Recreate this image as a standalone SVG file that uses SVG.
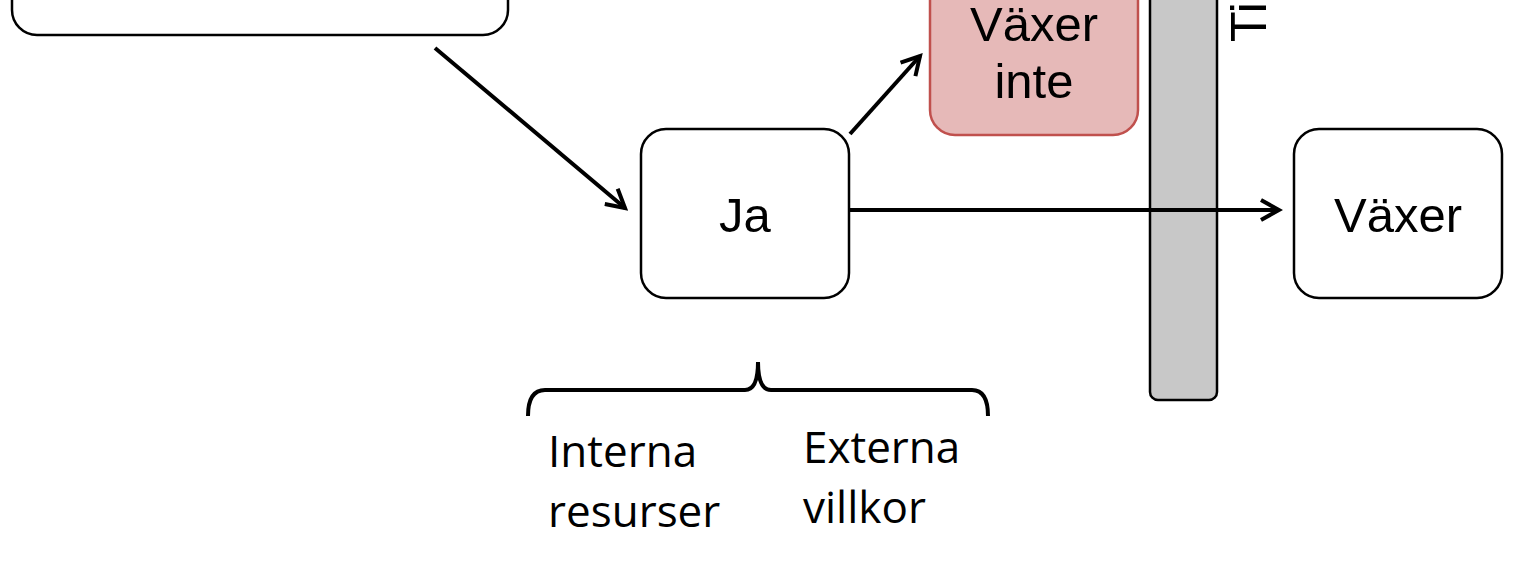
<svg xmlns="http://www.w3.org/2000/svg" width="1514" height="573" viewBox="0 0 1514 573">
<style>
.n{fill:#fff;stroke:#000;stroke-width:2.5}
.t{font-family:"Liberation Sans",Arial,sans-serif;font-size:49px;text-anchor:middle;fill:#000}
.c{stroke:#000;stroke-width:4;fill:none}
.b{font-family:"Open Sans","Liberation Sans",sans-serif;font-size:44px;fill:#000}
</style>
<defs><marker id="a" markerWidth="6" markerHeight="6" refX="5" refY="3" orient="auto" markerUnits="strokeWidth"><path d="M0.5,0.5 L5,3 L0.5,5.5" fill="none" stroke="#000" stroke-width="1"/></marker></defs>
<rect x="0" y="0" width="1514" height="573" fill="#fff"/>
<g id="top"><rect class="n" x="12" y="-40" width="496" height="75" rx="25"/></g>
<g id="bar"><rect x="1150" y="-20" width="67" height="420" rx="8" fill="#c8c8c8" stroke="#000" stroke-width="2.5"/>
<text class="t" transform="translate(1266,42) rotate(-90)" style="text-anchor:start;font-size:50px">Ti</text></g>
<g id="vaxerinte"><rect x="930" y="-40" width="208" height="175" rx="25" fill="#e6b9b8" stroke="#c0504d" stroke-width="2.5"/>
<text class="t" x="1034" y="41">Växer</text><text class="t" x="1034" y="98">inte</text></g>
<g id="ja"><rect class="n" x="641" y="129" width="208" height="169" rx="25"/><text class="t" x="745" y="232">Ja</text></g>
<g id="vaxer"><rect class="n" x="1294" y="129" width="208" height="169" rx="25"/><text class="t" x="1398" y="232">Växer</text></g>
<g id="connectors">
<line class="c" x1="435" y1="48" x2="625" y2="208" marker-end="url(#a)"/>
<line class="c" x1="850" y1="134" x2="920" y2="56" marker-end="url(#a)"/>
<line class="c" x1="850" y1="210" x2="1279" y2="210" marker-end="url(#a)"/>
</g>
<g id="brace"><path class="c" d="M528,416 Q528,390 545,390 L745,390 Q758,390 758,362 Q758,390 771,390 L972,390 Q988,390 988,416"/>
<text class="b" x="548" y="467">Interna</text><text class="b" x="548" y="527">resurser</text>
<text class="b" x="803" y="463">Externa</text><text class="b" x="803" y="523">villkor</text></g>
</svg>
